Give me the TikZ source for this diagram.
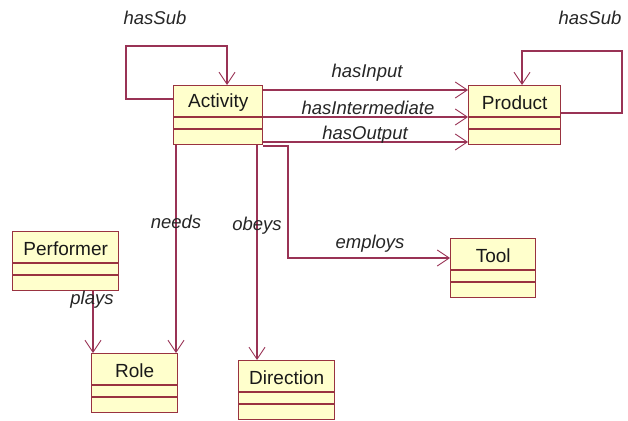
\documentclass[tikz,border=0pt]{standalone}
\usepackage{fontspec}
\setmainfont{Liberation Sans}
\usetikzlibrary{arrows.meta,calc}
\definecolor{ln}{HTML}{993355}
\definecolor{bd}{HTML}{993340}
\definecolor{bx}{HTML}{FFFFCC}
\newcommand{\umlclass}[5]{%
  \node[cls, minimum width=#4pt, anchor=north west] (#1) at (#2,#3) {};
  \node[clstext] (#1-t) at ($(#1.north)+(0,18)$) {#5};
  \draw[bdline] ($(#1.north west)+(0,32)$) -- ($(#1.north east)+(0,32)$);
  \draw[bdline] ($(#1.north west)+(0,44)$) -- ($(#1.north east)+(0,44)$);
}
\begin{document}
\begin{tikzpicture}[x=1pt,y=-1pt,
  cls/.style={draw=bd, fill=bx, line width=1.4pt, minimum height=59pt, inner sep=0pt},
  clstext/.style={font=\fontsize{19}{22}\selectfont, inner sep=0pt, text=black!90},
  bdline/.style={draw=bd, line width=1.4pt},
  conn/.style={draw=ln, line width=1.3pt, -{Straight Barb[length=12pt,width=16pt,line width=0.9pt]}},
  lbl/.style={font=\fontsize{18.5}{22}\selectfont\itshape, inner sep=0pt, text=black!85}]
\useasboundingbox (0,0) rectangle (628,420);
\fill[white] (0,0) rectangle (628,420);
\umlclass{Activity}{173}{85}{89}{Activity}
\umlclass{Product}{468}{85}{92}{Product}
\umlclass{Tool}{450}{238}{85}{Tool}
\umlclass{Direction}{238}{360}{96}{Direction}
\umlclass{Performer}{12}{231}{106}{Performer}
\umlclass{Role}{91}{353}{86}{Role}
% self loops
\draw[conn] (Activity.west |- 0,99) -- (126,99) -- (126,46) -- (227,46) -- (Activity.north -| 227,0);
\draw[conn] (Product.east |- 0,113) -- (622,113) -- (622,51) -- (522,51) -- (Product.north -| 522,0);
% associations to Product
\draw[conn] (Activity.east |- 0,90) -- (Product.west |- 0,90);
\draw[conn] (Activity.east |- 0,117) -- (Product.west |- 0,117);
\draw[conn] (Activity.east |- 0,142) -- (Product.west |- 0,142);
% employs
\draw[conn] (Activity.east |- 0,146) -- (288,146) -- (288,258) -- (Tool.west |- 0,258);
% needs, obeys, plays
\draw[conn] (Activity.south -| 176,0) -- (Role.north -| 176,0);
\draw[conn] (Activity.south -| 257,0) -- (Direction.north -| 257,0);
\draw[conn] (Performer.south -| 93,0) -- (Role.north -| 93,0);
% labels
\node[lbl] (l1) at (155,18) {hasSub};
\node[lbl] (l2) at (590,18) {hasSub};
\node[lbl] (l3) at (367,73) {hasInput};
\node[lbl] (l4) at (368,108) {hasIntermediate};
\node[lbl] (l5) at (365,135) {hasOutput};
\node[lbl] (l6) at (176,222) {needs};
\node[lbl] (l7) at (257,226) {obeys};
\node[lbl] (l8) at (370,244) {employs};
\node[lbl] (l9) at (92,300) {plays};
\end{tikzpicture}
\end{document}
